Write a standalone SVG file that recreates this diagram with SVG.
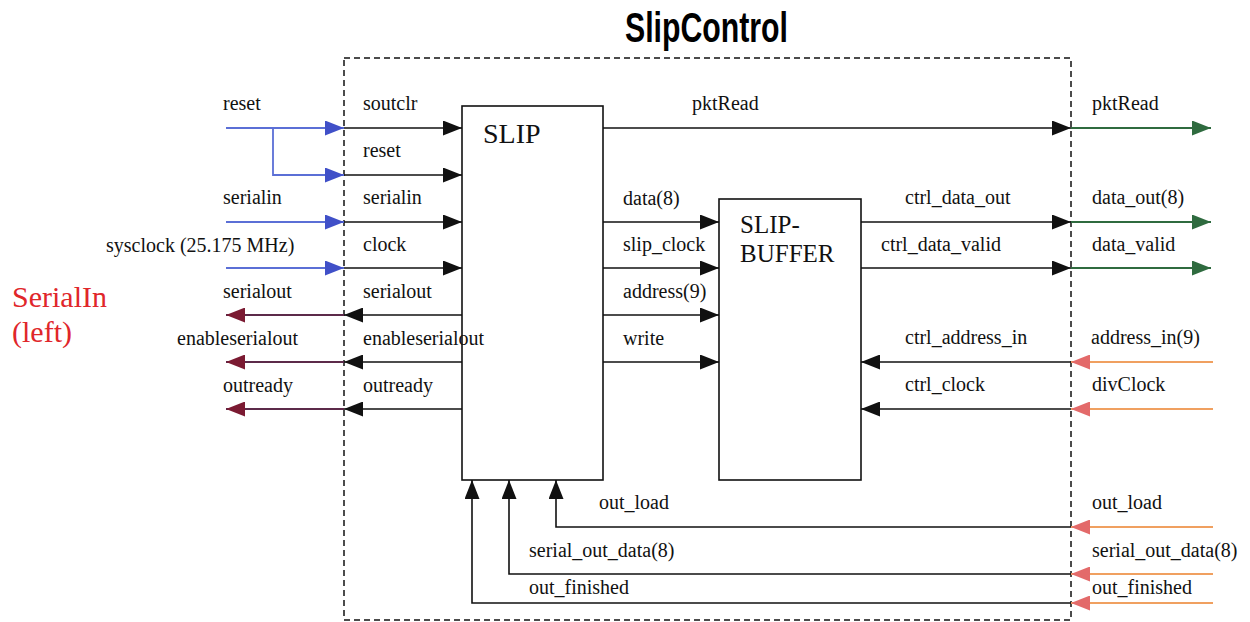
<svg xmlns="http://www.w3.org/2000/svg" width="1250" height="622" viewBox="0 0 1250 622">
<style>
.lbl{font-family:"Liberation Serif","Times New Roman",serif;font-size:20px;fill:#111}
.w{stroke:#111;stroke-width:1.6;fill:none}
.blue{stroke:#5b6fd6;stroke-width:1.8;fill:none}
.dred{stroke:#5c2a4a;stroke-width:1.8;fill:none}
.green{stroke:#2f6b3f;stroke-width:1.8;fill:none}
.org{stroke:#f0a060;stroke-width:1.8;fill:none}
.box{fill:#fff;stroke:#111;stroke-width:1.6}
</style>
<defs>
<marker id="mb" viewBox="0 0 19 15" refX="19" refY="7.5" markerWidth="19" markerHeight="15" markerUnits="userSpaceOnUse" orient="auto"><path d="M0,0 L19,7.5 L0,15 Z" fill="#111"/></marker>
<marker id="mblue" viewBox="0 0 19 15" refX="19" refY="7.5" markerWidth="19" markerHeight="15" markerUnits="userSpaceOnUse" orient="auto"><path d="M0,0 L19,7.5 L0,15 Z" fill="#4050c8"/></marker>
<marker id="mdred" viewBox="0 0 19 15" refX="19" refY="7.5" markerWidth="19" markerHeight="15" markerUnits="userSpaceOnUse" orient="auto"><path d="M0,0 L19,7.5 L0,15 Z" fill="#7b1a32"/></marker>
<marker id="mgreen" viewBox="0 0 19 15" refX="19" refY="7.5" markerWidth="19" markerHeight="15" markerUnits="userSpaceOnUse" orient="auto"><path d="M0,0 L19,7.5 L0,15 Z" fill="#2f6b3f"/></marker>
<marker id="morg" viewBox="0 0 19 15" refX="19" refY="7.5" markerWidth="19" markerHeight="15" markerUnits="userSpaceOnUse" orient="auto"><path d="M0,0 L19,7.5 L0,15 Z" fill="#e36a6a"/></marker>
</defs>
<rect width="1250" height="622" fill="#fff"/>

<g id="slipcontrol">
<rect x="344" y="58" width="727" height="562" fill="none" stroke="#111" stroke-width="1.5" stroke-dasharray="6,4"/>
<text x="625" y="42" font-family="'Liberation Sans',Arial,sans-serif" font-weight="bold" font-size="42" textLength="163" lengthAdjust="spacingAndGlyphs" fill="#000">SlipControl</text>
</g>

<g id="slip">
<rect class="box" x="462" y="106" width="141" height="374"/>
<text x="483" y="143" font-family="'Liberation Serif','Times New Roman',serif" font-size="28" fill="#111">SLIP</text>
</g>

<g id="slipbuffer">
<rect class="box" x="719" y="199" width="142" height="281"/>
<text x="740" y="233" font-family="'Liberation Serif','Times New Roman',serif" font-size="25" fill="#111">SLIP-</text>
<text x="740" y="262" font-family="'Liberation Serif','Times New Roman',serif" font-size="25" fill="#111">BUFFER</text>
</g>

<g id="serialin-note">
<text x="12" y="307" font-family="'Liberation Serif','Times New Roman',serif" font-size="30" fill="#e0262a">SerialIn</text>
<text x="12" y="342" font-family="'Liberation Serif','Times New Roman',serif" font-size="30" fill="#e0262a">(left)</text>
</g>

<g id="connectors">
<!-- external left inputs -->
<path class="blue" d="M226,128 H344" marker-end="url(#mblue)"/>
<path class="blue" d="M273,128 V175 H344" marker-end="url(#mblue)"/>
<path class="blue" d="M226,222 H344" marker-end="url(#mblue)"/>
<path class="blue" d="M226,268 H344" marker-end="url(#mblue)"/>
<!-- internal left inputs -->
<path class="w" d="M344,128 H462" marker-end="url(#mb)"/>
<path class="w" d="M344,175 H462" marker-end="url(#mb)"/>
<path class="w" d="M344,222 H462" marker-end="url(#mb)"/>
<path class="w" d="M344,268 H462" marker-end="url(#mb)"/>
<!-- left outputs -->
<path class="w" d="M462,315 H344" marker-end="url(#mb)"/>
<path class="w" d="M462,362 H344" marker-end="url(#mb)"/>
<path class="w" d="M462,409 H344" marker-end="url(#mb)"/>
<path class="dred" d="M344,315 H226" marker-end="url(#mdred)"/>
<path class="dred" d="M344,362 H226" marker-end="url(#mdred)"/>
<path class="dred" d="M344,409 H226" marker-end="url(#mdred)"/>
<!-- pktRead -->
<path class="w" d="M603,128 H1071" marker-end="url(#mb)"/>
<path class="green" d="M1071,128 H1211" marker-end="url(#mgreen)"/>
<!-- SLIP to buffer -->
<path class="w" d="M603,222 H719" marker-end="url(#mb)"/>
<path class="w" d="M603,268 H719" marker-end="url(#mb)"/>
<path class="w" d="M603,315 H719" marker-end="url(#mb)"/>
<path class="w" d="M603,362 H719" marker-end="url(#mb)"/>
<!-- buffer outputs -->
<path class="w" d="M861,222 H1071" marker-end="url(#mb)"/>
<path class="w" d="M861,268 H1071" marker-end="url(#mb)"/>
<path class="green" d="M1071,222 H1211" marker-end="url(#mgreen)"/>
<path class="green" d="M1071,268 H1211" marker-end="url(#mgreen)"/>
<!-- buffer inputs -->
<path class="w" d="M1071,362 H861" marker-end="url(#mb)"/>
<path class="w" d="M1071,409 H861" marker-end="url(#mb)"/>
<path class="org" d="M1213,362 H1071" marker-end="url(#morg)"/>
<path class="org" d="M1213,409 H1071" marker-end="url(#morg)"/>
<!-- bottom inputs to SLIP -->
<path class="w" d="M1071,527 H556 V480" marker-end="url(#mb)"/>
<path class="w" d="M1071,574 H509 V480" marker-end="url(#mb)"/>
<path class="w" d="M1071,603 H472 V480" marker-end="url(#mb)"/>
<path class="org" d="M1213,527 H1071" marker-end="url(#morg)"/>
<path class="org" d="M1213,574 H1071" marker-end="url(#morg)"/>
<path class="org" d="M1213,603 H1071" marker-end="url(#morg)"/>
</g>

<g id="labels">
<text class="lbl" x="223" y="110">reset</text>
<text class="lbl" x="223" y="204">serialin</text>
<text class="lbl" x="106" y="252">sysclock (25.175 MHz)</text>
<text class="lbl" x="223" y="298">serialout</text>
<text class="lbl" x="177" y="345">enableserialout</text>
<text class="lbl" x="223" y="392">outready</text>

<text class="lbl" x="363" y="110">soutclr</text>
<text class="lbl" x="363" y="157">reset</text>
<text class="lbl" x="363" y="204">serialin</text>
<text class="lbl" x="363" y="251">clock</text>
<text class="lbl" x="363" y="298">serialout</text>
<text class="lbl" x="363" y="345">enableserialout</text>
<text class="lbl" x="363" y="392">outready</text>

<text class="lbl" x="692" y="110">pktRead</text>
<text class="lbl" x="623" y="205">data(8)</text>
<text class="lbl" x="623" y="251">slip_clock</text>
<text class="lbl" x="623" y="298">address(9)</text>
<text class="lbl" x="623" y="345">write</text>

<text class="lbl" x="905" y="204">ctrl_data_out</text>
<text class="lbl" x="881" y="251">ctrl_data_valid</text>
<text class="lbl" x="905" y="344">ctrl_address_in</text>
<text class="lbl" x="905" y="391">ctrl_clock</text>

<text class="lbl" x="1092" y="110">pktRead</text>
<text class="lbl" x="1092" y="204">data_out(8)</text>
<text class="lbl" x="1092" y="251">data_valid</text>
<text class="lbl" x="1091" y="344">address_in(9)</text>
<text class="lbl" x="1092" y="391">divClock</text>

<text class="lbl" x="599" y="509">out_load</text>
<text class="lbl" x="529" y="557">serial_out_data(8)</text>
<text class="lbl" x="529" y="594">out_finished</text>
<text class="lbl" x="1092" y="509">out_load</text>
<text class="lbl" x="1092" y="557">serial_out_data(8)</text>
<text class="lbl" x="1092" y="594">out_finished</text>
</g>
</svg>
